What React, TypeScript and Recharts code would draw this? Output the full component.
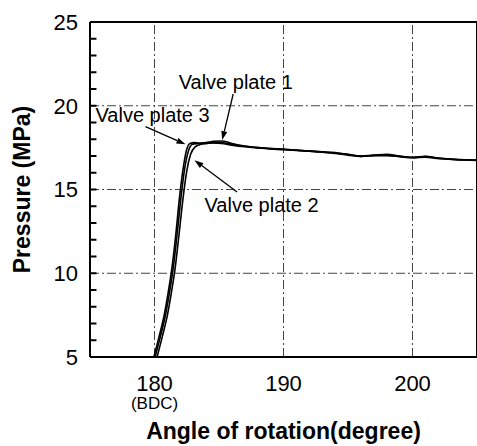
import React from "react";
import {
  LineChart,
  Line,
  XAxis,
  YAxis,
  ReferenceLine,
  ReferenceDot,
} from "recharts";

// ---- data (angle in degrees, pressure in MPa) ----
const plate1Angle = [180.05, 180.45, 180.85, 181.15, 181.45, 181.75, 182.05, 182.35, 182.65, 182.95, 183.4, 184.0, 184.6, 185.2, 186.0, 187.0, 188.0, 189.0, 190.0, 191.0, 192.0, 193.0, 194.0, 195.0, 196.0, 197.0, 198.0, 199.0, 200.0, 201.0, 202.0, 203.0, 204.0, 205.0];
const plate1Pressure = [5.0, 6.2, 7.5, 8.8, 10.3, 12.3, 14.5, 16.3, 17.35, 17.7, 17.75, 17.8, 17.88, 17.9, 17.75, 17.6, 17.5, 17.45, 17.4, 17.35, 17.3, 17.25, 17.2, 17.1, 17.0, 17.05, 17.1, 17.0, 16.92, 16.98, 16.88, 16.82, 16.78, 16.75];

const plate2Angle = [180.2, 180.6, 181.0, 181.3, 181.6, 181.9, 182.2, 182.5, 182.8, 183.15, 183.6, 184.1, 184.6, 185.2, 186.0, 187.0, 188.0, 189.0, 190.0, 191.0, 192.0, 193.0, 194.0, 195.0, 196.0, 197.0, 198.0, 199.0, 200.0, 201.0, 202.0, 203.0, 204.0, 205.0];
const plate2Pressure = [5.0, 6.2, 7.5, 8.8, 10.3, 12.3, 14.4, 16.1, 17.1, 17.55, 17.7, 17.75, 17.78, 17.75, 17.65, 17.55, 17.48, 17.42, 17.38, 17.33, 17.28, 17.22, 17.15, 17.05, 16.98, 17.02, 17.02, 16.96, 16.9, 16.93, 16.85, 16.8, 16.76, 16.74];

const plate3Angle = [179.95, 180.35, 180.75, 181.05, 181.35, 181.65, 181.95, 182.25, 182.5, 182.75, 183.1, 183.6, 184.2, 185.0, 186.0, 187.0, 188.0, 189.0, 190.0, 191.0, 192.0, 193.0, 194.0, 195.0, 196.0, 197.0, 198.0, 199.0, 200.0, 201.0, 202.0, 203.0, 204.0, 205.0];
const plate3Pressure = [5.0, 6.2, 7.5, 8.8, 10.3, 12.3, 14.6, 16.4, 17.4, 17.75, 17.8, 17.76, 17.78, 17.8, 17.7, 17.58, 17.5, 17.44, 17.4, 17.34, 17.29, 17.24, 17.18, 17.08, 16.98, 17.04, 17.06, 16.98, 16.91, 16.96, 16.86, 16.81, 16.77, 16.75];

const xTicks = [180, 190, 200];
const xTickNotes = ["(BDC)", "", ""];
const yTicks = [5, 10, 15, 20, 25];
const yMinorTicks = [6, 7, 8, 9, 10, 11, 12, 13, 14, 15, 16, 17, 18, 19, 20, 21, 22, 23, 24];
const yGrid = [10, 15, 20];

const xTitle = "Angle of rotation(degree)";
const yTitle = "Pressure (MPa)";

// annotations: label position and arrow (from -> to), all in data units
const annLabels = ["Valve plate 1", "Valve plate 3", "Valve plate 2"];
const annTextX = [186.3, 179.85, 188.3];
const annTextY = [21.45, 19.45, 14.1];
const annFromX = [186.1, 179.3, 186.4];
const annFromY = [20.7, 18.75, 14.85];
const annToX = [185.25, 182.4, 183.1];
const annToY = [17.95, 17.7, 16.75];

const zip = (xs: number[], ys: number[]) => xs.map((x, i) => ({ x, y: ys[i] }));
const plate1 = zip(plate1Angle, plate1Pressure);
const plate2 = zip(plate2Angle, plate2Pressure);
const plate3 = zip(plate3Angle, plate3Pressure);

const FONT = "'Liberation Sans', Arial, Helvetica, sans-serif";
const GRID_DASH = "9 3 2 3";
const X_MIN = 175;
const X_MAX = 205;

const YTick = (props: any) => {
  const { x, y, payload } = props;
  return (
    <text
      x={x - 12}
      y={y}
      dy="0.36em"
      textAnchor="end"
      fontFamily={FONT}
      fontSize={22}
      fill="#000"
    >
      {payload.value}
    </text>
  );
};

const XTick = (props: any) => {
  const { x, y, payload } = props;
  const note = xTickNotes[xTicks.indexOf(payload.value)] || "";
  return (
    <g>
      <text x={x} y={y + 34} textAnchor="middle" fontFamily={FONT} fontSize={22} fill="#000">
        {payload.value}
      </text>
      {note && (
        <text x={x} y={y + 52} textAnchor="middle" fontFamily={FONT} fontSize={17} fill="#000">
          {note}
        </text>
      )}
    </g>
  );
};

const MinorTick = (props: any) => {
  const { x1, y1, x2, y2 } = props;
  if ([x1, y1, x2, y2].some((v) => v == null || isNaN(v))) return null;
  return <line x1={x1} y1={y1} x2={x2} y2={y2} stroke="#000" strokeWidth={2} />;
};

const Arrow = (props: any) => {
  const { x1, y1, x2, y2 } = props;
  if ([x1, y1, x2, y2].some((v) => v == null || isNaN(v))) return null;
  const ang = Math.atan2(y2 - y1, x2 - x1);
  const L = 9;
  const W = 3;
  const bx = x2 - L * Math.cos(ang);
  const by = y2 - L * Math.sin(ang);
  const px = -Math.sin(ang) * W;
  const py = Math.cos(ang) * W;
  return (
    <g>
      <line x1={x1} y1={y1} x2={bx} y2={by} stroke="#000" strokeWidth={1.3} />
      <polygon
        points={`${x2},${y2} ${bx + px},${by + py} ${bx - px},${by - py}`}
        fill="#000"
      />
    </g>
  );
};

export default function App() {
  return (
    <div style={{ position: "absolute", left: 0, top: 0, background: "#fff" }}>
      <LineChart
        width={478}
        height={446}
        margin={{ top: 22, right: 1, bottom: 0, left: 0 }}
        style={{ fontFamily: FONT }}
      >
        <XAxis
          dataKey="x"
          type="number"
          domain={[X_MIN, X_MAX]}
          ticks={xTicks}
          allowDataOverflow
          height={89}
          tickSize={0}
          tickMargin={0}
          tick={<XTick />}
          axisLine={{ stroke: "#000", strokeWidth: 2 }}
          tickLine={false}
          label={{
            value: xTitle,
            position: "insideBottom",
            offset: 7,
            fontFamily: FONT,
            fontSize: 23,
            fontWeight: "bold",
            fill: "#000",
          }}
        />
        <YAxis
          type="number"
          domain={[5, 25]}
          ticks={yTicks}
          interval={0}
          allowDataOverflow
          width={90}
          tickSize={0}
          tickMargin={0}
          tick={<YTick />}
          axisLine={{ stroke: "#000", strokeWidth: 2 }}
          tickLine={false}
          label={{
            content: (p: any) => {
              const vb = p.viewBox || {};
              const cy = (vb.y || 0) + (vb.height || 0) / 2;
              const cx = 22;
              return (
                <text
                  x={cx}
                  y={cy}
                  transform={`rotate(-90, ${cx}, ${cy})`}
                  textAnchor="middle"
                  dominantBaseline="central"
                  fontFamily={FONT}
                  fontSize={23}
                  fontWeight="bold"
                  fill="#000"
                >
                  {yTitle}
                </text>
              );
            },
          }}
        />

        {yGrid.map((v) => (
          <ReferenceLine key={"hy" + v} y={v} stroke="#444" strokeWidth={1} strokeDasharray={GRID_DASH} />
        ))}
        {xTicks.map((v) => (
          <ReferenceLine key={"vx" + v} x={v} stroke="#444" strokeWidth={1} strokeDasharray={GRID_DASH} />
        ))}
        <ReferenceLine y={25} stroke="#000" strokeWidth={2} />
        <ReferenceLine x={X_MAX} stroke="#000" strokeWidth={2} />

        {yMinorTicks.map((v) => (
          <ReferenceLine
            key={"mt" + v}
            segment={[
              { x: X_MIN, y: v },
              { x: X_MIN + 0.5, y: v },
            ]}
            ifOverflow="visible"
            shape={<MinorTick />}
          />
        ))}

        <Line data={plate3} dataKey="y" type="monotone" stroke="#000" strokeWidth={1.6} dot={false} isAnimationActive={false} />
        <Line data={plate1} dataKey="y" type="monotone" stroke="#000" strokeWidth={1.6} dot={false} isAnimationActive={false} />
        <Line data={plate2} dataKey="y" type="monotone" stroke="#000" strokeWidth={1.6} dot={false} isAnimationActive={false} />

        {annLabels.map((t, i) => (
          <ReferenceLine
            key={"arr" + i}
            segment={[
              { x: annFromX[i], y: annFromY[i] },
              { x: annToX[i], y: annToY[i] },
            ]}
            ifOverflow="visible"
            shape={<Arrow />}
          />
        ))}
        {annLabels.map((t, i) => (
          <ReferenceDot
            key={"lab" + i}
            x={annTextX[i]}
            y={annTextY[i]}
            r={0}
            ifOverflow="visible"
            shape={(p: any) => (
              <text
                x={p.cx}
                y={p.cy}
                dy="0.36em"
                textAnchor="middle"
                fontFamily={FONT}
                fontSize={20}
                fill="#000"
              >
                {t}
              </text>
            )}
          />
        ))}
      </LineChart>
    </div>
  );
}
